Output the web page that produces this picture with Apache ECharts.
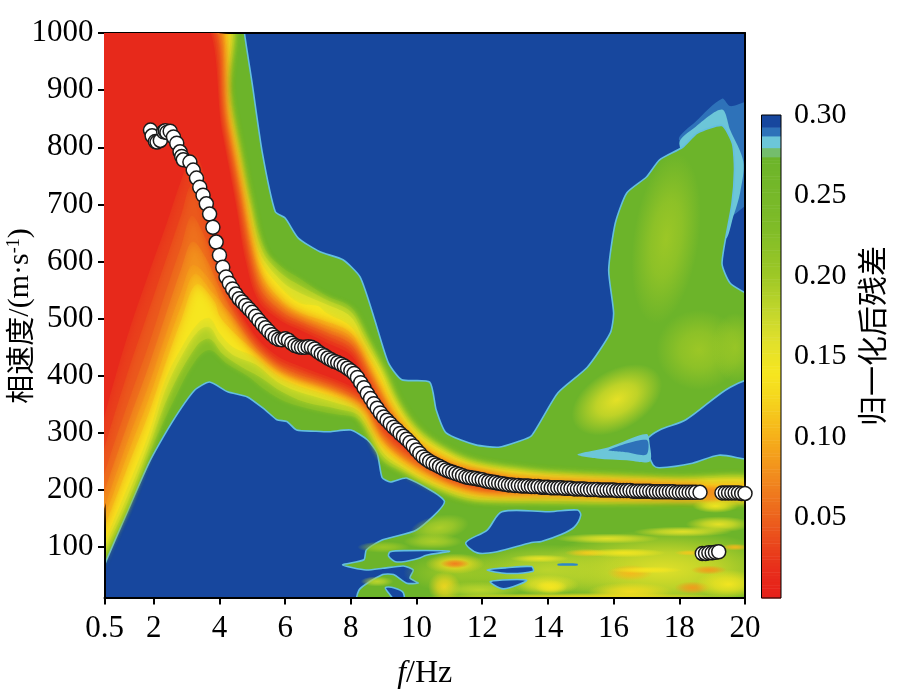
<!DOCTYPE html>
<html><head><meta charset="utf-8">
<style>html,body{margin:0;padding:0;background:#fff}#c{width:899px;height:696px}</style>
<script src="https://cdn.jsdelivr.net/npm/echarts@6/dist/echarts.min.js"></script>
</head><body><div id="c"></div>
<script>
const xTicks=[0.5,2,4,6,8,10,12,14,16,18,20];
const yTicks=[100,200,300,400,500,600,700,800,900,1000];
const barTicks=[0.05,0.10,0.15,0.20,0.25,0.30];
const colorValues=[0,0.02,0.05,0.075,0.10,0.125,0.14,0.16,0.18,0.20,0.23,0.274];
const colorList=['#e61f1a','#e8301b','#ec621d','#f18a1e','#f6b01a','#f5d71e','#f6e620','#e0e02c','#bfd62c','#9ec826','#7fbc28','#6cb42a'];
const capValues=[0.274,0.2797,0.287,0.2925,0.30];
const capColors=['#74bd6c','#6cc6d8','#2e72b9','#17479e'];

const dotFreq=[1.9,1.95,2.05,2.1,2.2,2.3,2.35,2.4,2.5,2.6,2.7,2.8,2.85,2.9,3.1,3.2,3.3,3.4,3.5,3.6,3.7,3.8,3.9,4.0,4.1,4.2,4.3,4.4,4.5,4.6,4.7,4.8,4.9,5.0,5.1,5.2,5.3,5.4,5.5,5.6,5.7,5.8,5.9,6.0,6.1,6.2,6.3,6.4,6.5,6.6,6.7,6.8,6.9,7.0,7.1,7.2,7.3,7.4,7.5,7.6,7.7,7.8,7.9,8.0,8.1,8.2,8.3,8.4,8.5,8.6,8.7,8.8,8.9,9.0,9.1,9.2,9.3,9.4,9.5,9.6,9.7,9.8,9.9,10.0,10.1,10.2,10.3,10.4,10.5,10.6,10.7,10.8,10.9,11.0,11.1,11.2,11.3,11.4,11.5,11.6,11.7,11.8,11.9,12.0,12.1,12.2,12.3,12.4,12.5,12.6,12.7,12.8,12.9,13.0,13.1,13.2,13.3,13.4,13.5,13.6,13.7,13.8,13.9,14.0,14.1,14.2,14.3,14.4,14.5,14.6,14.7,14.8,14.9,15.0,15.1,15.2,15.3,15.4,15.5,15.6,15.7,15.8,15.9,16.0,16.1,16.2,16.3,16.4,16.5,16.6,16.7,16.8,16.9,17.0,17.1,17.2,17.3,17.4,17.5,17.6,17.7,17.8,17.9,18.0,18.1,18.2,18.3,18.4,18.5,18.63,19.3,19.4,19.5,19.6,19.7,19.8,19.9,20.0];
const dotVel=[830,820,810,809,812,827,829,826,828,818,807,792,784,778,774,760,746,730,716,701,683,660,634,611,590,573,562,552,543,535,529,523,517,511,504,497,490,484,478,472,467,464,463,465,462,457,453,451,450,450,451,450,447,442,438,435,431,428,425,423,420,417,413,409,404,397,388,379,369,360,351,343,335,328,322,316,310,305,299,294,289,283,277,270,264,258,254,250,247,244,241,238,235,233,231,229,227,225,223,222,221,220,219,218,216,215,214,213,212,211,210,209,209,208,208,207,207,207,206,206,206,205,205,205,204,204,204,204,203,203,203,202,202,202,202,201,201,201,201,200,200,200,200,200,199,199,199,199,199,198,198,198,198,198,198,197,197,197,197,197,197,197,196,196,196,196,196,196,196,196,195,195,195,195,195,195,194,194];
const lowFreq=[18.7,18.8,18.9,19.0,19.1,19.2];
const lowVel=[89,89,90,90,91,92];

// contours: [frequency, velocity] outlines
const tipMid=[[18.0,812],[18.5,845],[19.3,885],[19.55,872],[20.3,880],[20.3,720],[19.85,690],[19.55,680],[19.7,760]];
const tipLight=[[18.0,806],[18.5,836],[19.3,866],[19.55,830],[19.95,775],[19.85,720],[19.65,680],[19.4,640],[18.8,700]];
const outer=[[0.3,1040],[4.7,1040],[4.76,1000],[5.0,910],[5.3,792],[5.7,687],[6.0,676],[6.4,641],[7.06,617],[7.76,603],[8.28,573],[8.7,503],[9.14,423],[9.55,393],[10.4,389],[10.6,340],[10.9,300],[11.8,279],[12.5,275],[13.1,285],[13.5,295],[14.3,370],[15.2,415],[15.9,475],[16,510],[15.85,585],[16.05,667],[16.4,720],[17.0,748],[17.4,778],[18.1,800],[18.55,825],[19.3,838],[19.62,806],[19.68,760],[19.6,700],[19.3,597],[19.55,562],[20.4,525],[20.4,-20],[8.2,-20],[8.25,25],[8.97,52],[9.3,52],[9.7,37],[10.05,37],[9.8,46],[9.9,60],[9.6,67],[8.97,63],[8.47,60],[7.75,69],[8.4,78],[8.47,95],[8.97,113],[10,130],[10.85,180],[9.7,221],[9.2,214],[8.95,222],[8.8,265],[8.5,288],[8,305],[7.35,302],[6.9,303],[6.35,305],[6.05,320],[5.75,323],[5.4,340],[4.85,363],[4.25,372],[3.7,389],[3.25,375],[2.55,318],[1.85,247],[0.5,69],[0.3,38]];
const holeUpper=[[17,288],[17.4,305],[18.2,323],[19.55,380],[20.4,392],[20.4,258],[19.2,261],[18.4,247],[17.4,239],[17.2,244],[17,275]];
const stripLight=[[14.9,262],[15.85,275],[17,298],[17.1,280],[17.1,250],[16.4,252],[15.5,255]];
const stripMid=[[15.85,270],[17,288],[17,262],[16.4,266]];
const holeA=[[12.6,162],[14.05,162],[14.9,165],[15.0,156],[14.8,135],[14.4,122],[13.8,110],[13.5,108],[12.45,92],[11.85,90],[11.5,108],[12.15,130]];
const holeB=[[9.2,92],[9.7,94],[11.0,93],[10.3,86],[10.05,80],[9.4,74],[9.15,84]];
const holeD=[[9.05,29],[9.3,29],[9.6,20],[9.6,-10],[9.2,16]];
const holeE=[[12.15,60],[12.75,64],[13.5,66],[13.55,58],[12.75,54]];
const holeF=[[12.25,40],[13.35,42],[12.65,27]];
const holeG=[[14.3,71],[14.9,71],[14.9,68],[14.3,68]];

const lime=[[0.3,60],[0.5,85],[1.2,165],[1.85,262],[2.55,350],[3.25,425],[3.7,445],[4.25,420],[4.85,400],[5.4,375],[6,355],[6.9,340],[7.6,332],[8.2,325],[8.6,290],[9,250],[9.6,232],[10.5,205],[11.5,183],[12.5,178],[14,176],[16,175],[18,178],[20.4,180],[20.4,222],[18,222],[16,226],[14,232],[13.1,238],[11.8,250],[10.9,272],[10,310],[9.5,350],[9,410],[8.4,480],[8,520],[7.25,540],[6.45,570],[5.9,590],[5.4,620],[4.95,700],[4.6,800],[4.3,900],[4.25,1040],[0.3,1040]];
const limeMid=[[0.3,68],[0.5,92],[1.2,178],[1.85,274],[2.45,365],[3.3,452],[3.7,465],[4.1,438],[4.6,418],[5.25,397],[5.9,372],[6.6,354],[7.6,342],[8.2,332],[8.6,299],[9,258],[9.6,236],[10.5,208],[11.5,187],[12.4,182],[14,181],[16,180],[18,182],[20.4,184],[20.4,218],[18,219],[16,223],[14,229],[13.1,235],[11.8,247],[10.9,268],[10,305],[9.4,354],[8.95,410],[8.4,470],[8,512],[7.25,533],[6.45,558],[5.9,578],[5.3,619],[4.9,705],[4.55,798],[4.25,898],[4.17,1040],[0.3,1040]];
const yellowGreen=[[0.3,75],[0.5,100],[1.2,190],[1.85,285],[2.35,375],[2.85,435],[3.35,478],[3.7,485],[4,460],[4.4,437],[5.1,420],[5.75,390],[6.3,374],[7,362],[7.6,352],[8.2,340],[8.6,308],[9,265],[9.6,240],[10.5,212],[11.5,192],[12.2,187],[14,187],[16,185],[18,186],[20.4,188],[20.4,215],[18,216],[16,220],[14,226],[13.1,232],[11.8,244],[10.9,265],[10,300],[9.3,358],[8.9,410],[8.4,460],[8,503],[7.25,525],[6.45,545],[5.9,565],[5.2,618],[4.8,710],[4.5,795],[4.2,897],[4.1,1040],[0.3,1040]];
const yellow=[[0.3,85],[0.5,110],[1.2,205],[1.85,300],[2.35,393],[2.85,450],[3.35,492],[3.7,501],[4,475],[4.4,451],[5.1,433],[5.75,402],[6.3,385],[7,372],[7.6,362],[8.2,350],[8.6,318],[9,275],[9.6,247],[10.5,218],[11.5,197],[12.2,192],[14,192],[16,190],[18,190],[20.4,190],[20.4,208],[18,210],[16,214],[14,220],[13.1,226],[11.8,238],[10.9,258],[10,293],[9.3,345],[8.9,398],[8.4,445],[8,486],[7.25,510],[7,522],[6.45,527],[5.9,552],[5.2,606],[4.8,694],[4.5,781],[4.1,897],[4.0,1040],[0.3,1040]];
const amber=[[0.3,105],[0.5,135],[1.2,240],[1.85,335],[2.35,420],[2.85,500],[3.3,560],[3.85,530],[4,505],[4.4,478],[5.1,442],[5.75,410],[6.3,395],[7,382],[7.6,370],[8.2,356],[8.6,330],[9,285],[9.6,255],[10.5,225],[11.5,202],[12.2,197],[14,197],[16,195],[18,193],[20.4,192],[20.4,203],[18,205],[16,208],[14,214],[13.1,218],[11.8,230],[10.9,250],[10,282],[9.3,330],[8.9,375],[8.4,432],[8,475],[7.25,495],[6.45,510],[5.9,530],[5.2,585],[4.8,670],[4.5,760],[4.1,880],[3.85,1040],[0.3,1040]];
const amberMid=[[0.3,120],[0.5,152],[1.2,262],[1.85,360],[2.35,445],[2.85,525],[3.25,578],[3.8,545],[4.2,520],[4.7,480],[5.1,455],[5.75,414],[6.3,398],[7,385],[7.6,373],[8.2,357],[8.6,335],[9,290],[9.6,258],[10.5,228],[11.5,205],[12.2,199],[14,198],[18,193.5],[20.4,192],[20.4,201],[18,203],[14,212],[13.1,216],[11.8,228],[10.9,246],[10,278],[9.3,326],[8.9,368],[8.4,426],[8,468],[7.25,488],[6.45,505],[5.9,525],[5.2,575],[4.8,660],[4.5,750],[4.1,870],[3.75,1040],[0.3,1040]];
const orange=[[0.3,135],[0.5,170],[1.2,285],[1.85,385],[2.35,470],[2.85,550],[3.2,594],[3.8,560],[4.1,525],[4.4,505],[5.1,450],[5.75,418],[6.3,400],[7,388],[7.6,376],[8.2,358],[8.6,340],[9,295],[9.6,262],[10.5,231],[11.5,208],[12.2,201],[14,199],[16,197],[18,194],[20.4,192],[20.4,200],[18,201],[16,205],[14,210],[13.1,214],[11.8,226],[10.9,243],[10,275],[9.3,322],[8.9,362],[8.4,420],[8,462],[7.25,482],[6.45,500],[5.9,520],[5.2,565],[4.8,650],[4.5,740],[4.1,860],[3.65,1040],[0.3,1040]];
const orangeMid=[[0.3,160],[0.5,198],[1.2,315],[1.85,418],[2.35,505],[2.85,590],[3.18,635],[3.6,605],[4,555],[4.4,515],[5.1,456],[5.75,422],[6.3,405],[7,392],[7.6,380],[8.2,363],[8.6,345],[9,300],[9.6,266],[10.5,234],[11.5,210],[12.5,202],[14,200],[18,194],[18.6,194],[18.6,200],[14,209],[13,213],[11.8,224],[10.9,240],[10,271],[9.3,317],[8.9,355],[8.4,412],[8,455],[7.25,476],[6.45,495],[5.9,512],[5.2,555],[4.8,638],[4.5,730],[4.1,850],[3.58,1040],[0.3,1040]];
const redOrange=[[0.3,190],[0.5,230],[1.2,350],[1.85,455],[2.35,545],[2.85,630],[3.15,680],[3.5,650],[3.9,590],[4.4,525],[5.1,462],[5.75,425],[6.3,410],[7,396],[7.6,384],[8.2,368],[8.6,350],[9,305],[9.6,270],[10.5,237],[11.5,213],[12.5,204],[14,202],[18.6,194],[18.6,199],[14,208],[13,211],[11.8,222],[10.9,238],[10,268],[9.3,312],[8.9,348],[8.4,405],[8,448],[7.25,470],[6.45,490],[5.9,505],[5.2,545],[4.8,625],[4.5,720],[4.1,840],[3.5,1040],[0.3,1040]];
const redMid=[[0.3,230],[0.5,275],[1.2,405],[1.85,515],[2.35,600],[2.85,685],[3.15,735],[3.5,705],[3.9,615],[4.4,532],[5.1,466],[5.75,430],[6.3,415],[7,400],[7.6,388],[8.2,372],[8.6,352],[9,310],[9.6,274],[10.5,238],[11.5,215],[12.5,205],[14,203],[18.6,195],[18.6,198],[14,207],[13,210],[11.8,223],[10.9,236],[10,265],[9.3,308],[8.9,344],[8.4,400],[8,442],[7.25,464],[6.45,485],[5.9,500],[5.2,538],[4.8,612],[4.5,710],[4.1,830],[3.42,1040],[0.3,1040]];
const red=[[0.3,280],[0.5,330],[1.2,470],[1.85,580],[2.35,660],[2.85,745],[3.2,790],[3.5,760],[3.9,640],[4.4,540],[5.1,470],[5.75,435],[6.3,420],[7,405],[7.6,392],[8.2,375],[8.6,355],[9,315],[9.6,278],[10.5,240],[11,225],[11.5,218],[12.5,207],[12.5,214],[11.5,225],[10.9,234],[10,262],[9.3,305],[8.9,340],[8.4,395],[8,436],[7.25,458],[6.45,480],[5.9,495],[5.2,530],[4.8,600],[4.5,700],[4.1,820],[3.35,1040],[0.3,1040]];
const ridgeLevels=[[lime,0.225,4],[limeMid,0.19,7],[yellowGreen,0.165,10],[yellow,0.14,12],[amber,0.112,12],[amberMid,0.095,12],[orange,0.08,12],[orangeMid,0.06,12],[redOrange,0.045,12],[redMid,0.03,12],[red,0.012,12]];

// soft patches: frequency, velocity, half width (Hz), half height (m/s), angle, residual
const patches=[
[17.6,640,1.0,150,-8,0.2],[16.1,358,1.5,52,30,0.15],[18.6,445,1.3,70,0,0.2],[19.7,450,0.7,60,0,0.205],
[17.5,60,3.8,70,0,0.155],[14,60,2.6,45,0,0.18],[11.4,55,1.8,35,0,0.2],
[10.7,134,0.9,22,10,0.19],[10.5,110,0.9,13,0,0.19],[9,100,0.8,10,0,0.2],[8.8,40,0.5,9,0,0.18],
[11.17,71,0.9,18,0,0.13],[11.17,71,0.45,8,0,0.065],[10.85,30,0.5,27,-15,0.125],[11.9,25,1.3,15,0,0.18],
[13.75,80,0.9,7,0,0.15],[13.95,34,1,18,0,0.15],[15.2,90,0.7,7,0,0.115],[16.3,90,1.3,8,0,0.14],
[16.5,55,0.7,14,0,0.105],[17,60,1.1,6,0,0.14],[18.4,29,0.55,11,0,0.085],[18.9,60,0.55,8,0,0.085],
[16.5,22,1.3,16,0,0.13],[14.1,30,0.5,12,0,0.14],[18.1,127,1.5,9,0,0.155],[15.8,115,1.6,9,0,0.155],
[19.7,100,0.45,6,0,0.105],[18.3,90,0.45,5,0,0.115],[15,12,5,8,0,0.13],[19.5,35,1,25,0,0.14],[19.2,140,1,14,0,0.15]
];
const gapPatches=[[18.95,192,0.5,18,0,0.08],[19.1,172,0.7,12,0,0.14]];

function hexRgb(h){return [1,3,5].map(i=>parseInt(h.substr(i,2),16));}
function colorOf(v){
  for(let i=1;i<colorValues.length;i++){
    if(v<=colorValues[i]){
      const t=(v-colorValues[i-1])/(colorValues[i]-colorValues[i-1]);
      const a=hexRgb(colorList[i-1]),b=hexRgb(colorList[i]);
      return 'rgb('+a.map((c,k)=>Math.round(c+(b[k]-c)*t)).join(',')+')';
    }
  }
  const h=hexRgb(colorList[colorList.length-1]);
  return 'rgb('+h.join(',')+')';
}
function alpha(c,a){return c.replace('rgb(','rgba(').replace(')',','+a+')');}

const BLUE='#17479e',HALO='#64bfe0',GREEN='#6cb42a';
function poly(points,style,smooth,z){
  return {type:'custom',coordinateSystem:'cartesian2d',xAxisIndex:0,yAxisIndex:0,clip:true,silent:true,z:z,data:[[points[0][0],points[0][1]]],animation:false,
    renderItem:function(p,api){
      return {type:'polygon',shape:{points:points.map(q=>api.coord(q)),smooth:smooth===undefined?0.35:smooth},style:style};
    }};
}
function soft(list,z){
  return {type:'custom',coordinateSystem:'cartesian2d',xAxisIndex:0,yAxisIndex:0,clip:true,silent:true,z:z,animation:false,data:list.map(r=>[r[0],r[1]]),
    renderItem:function(p,api){
      const row=list[p.dataIndex];
      const c=api.coord([row[0],row[1]]);
      const sz=api.size([row[2],row[3]]);
      const col=colorOf(row[5]);
      return {type:'circle',x:c[0],y:c[1],scaleX:sz[0]/100,scaleY:sz[1]/100,rotation:row[4]*Math.PI/180,shape:{cx:0,cy:0,r:100},
        style:{fill:new echarts.graphic.RadialGradient(0.5,0.5,0.5,[{offset:0,color:alpha(col,0.95)},{offset:0.45,color:alpha(col,0.65)},{offset:1,color:alpha(col,0)}])}};
    }};
}
const edge={lineWidth:1.6,stroke:HALO};
const series=[
  poly(tipMid,{fill:'#2e72b9'},0.3,2),
  poly(tipLight,{fill:'#6cc6d8'},0.3,2),
  poly(outer,Object.assign({fill:GREEN},edge),0.2,2),
  soft(patches,3),
  poly(holeUpper,Object.assign({fill:BLUE},edge),0.3,4),
  poly(stripLight,{fill:'#6cc6d8'},0.3,4),
  poly(stripMid,{fill:'#2e72b9'},0.3,4),
  poly(holeA,Object.assign({fill:BLUE},edge),0.3,4),
  poly(holeB,Object.assign({fill:BLUE},edge),0.3,4),
  poly(holeD,Object.assign({fill:BLUE},edge),0.3,4),
  poly(holeE,Object.assign({fill:BLUE},edge),0.3,4),
  poly(holeF,Object.assign({fill:BLUE},edge),0.3,4),
  poly(holeG,{fill:'#2e86c9'},0.3,4)
];
ridgeLevels.forEach(function(l,i){
  const col=colorOf(l[1]);
  series.push(poly(l[0],{fill:col,shadowColor:col,shadowBlur:l[2]},0.35,5+i));
});
series.push(soft(gapPatches,17));
const dotStyle={color:'#fff',borderColor:'#1a1a1a',borderWidth:1.5,opacity:1};
series.push({type:'scatter',xAxisIndex:0,yAxisIndex:0,clip:false,z:20,symbolSize:14,silent:true,animation:false,
  data:dotFreq.map((f,i)=>[f,dotVel[i]]),itemStyle:dotStyle});
series.push({type:'scatter',xAxisIndex:0,yAxisIndex:0,clip:false,z:20,symbolSize:14,silent:true,animation:false,
  data:lowFreq.map((f,i)=>[f,lowVel[i]]),itemStyle:dotStyle});

// colour bar
const STEP=0.002;
const bands=[];
for(let v=0;v<capValues[0]-1e-9;v+=STEP){bands.push([v,Math.min(v+STEP,capValues[0]),colorOf(v+STEP/2)]);}
capColors.forEach((c,i)=>bands.push([capValues[i],capValues[i+1],c]));
series.push({type:'custom',coordinateSystem:'cartesian2d',xAxisIndex:2,yAxisIndex:2,silent:true,animation:false,z:5,data:bands.map(b=>[0,b[0]]),
  renderItem:function(p,api){
    const b=bands[p.dataIndex];
    const a=api.coord([0,b[1]]),c=api.coord([1,b[0]]);
    return {type:'rect',shape:{x:a[0],y:a[1],width:c[0]-a[0],height:c[1]-a[1]+0.5},style:{fill:b[2]}};
  }});
series.push({type:'custom',coordinateSystem:'cartesian2d',xAxisIndex:2,yAxisIndex:2,silent:true,animation:false,z:6,data:[[0,0]],
  renderItem:function(p,api){
    const a=api.coord([0,0.3]),c=api.coord([1,0]);
    return {type:'rect',shape:{x:a[0],y:a[1],width:c[0]-a[0],height:c[1]-a[1]},style:{fill:'none',stroke:'#000',lineWidth:1}};
  }});

const SERIF='"Liberation Serif","Noto Sans CJK SC",serif';
const txt={fontFamily:SERIF,fontSize:30,color:'#000'};
const txtMain={fontFamily:SERIF,fontSize:31,color:'#000'};
const line2={show:true,lineStyle:{color:'#000',width:2}};
const option={
  animation:false,backgroundColor:'#fff',
  grid:[{left:104.5,top:33,width:640.5,height:565,show:true,backgroundColor:BLUE,borderWidth:0,outerBoundsMode:'none'},
        {left:761.5,top:115,width:19.5,height:483,outerBoundsMode:'none'}],
  xAxis:[
    {type:'value',gridIndex:0,min:0.5,max:20,z:10,axisLine:Object.assign({onZero:false},line2),splitLine:{show:false},
     axisTick:{show:true,customValues:xTicks,length:6.5,lineStyle:{color:'#000',width:2}},
     axisLabel:Object.assign({customValues:xTicks,margin:15,formatter:v=>String(v),hideOverlap:false},txtMain),
     name:'{i|f}{r|/Hz}',nameLocation:'middle',nameGap:60,
     nameTextStyle:{rich:{i:{fontFamily:SERIF,fontSize:32,fontStyle:'italic',color:'#000'},r:{fontFamily:SERIF,fontSize:32,color:'#000'}}}},
    {type:'value',gridIndex:0,min:0.5,max:20,position:'top',z:10,axisLine:Object.assign({onZero:false},line2),axisTick:{show:false},axisLabel:{show:false},splitLine:{show:false}},
    {type:'value',gridIndex:1,min:0,max:1,show:false}
  ],
  yAxis:[
    {type:'value',gridIndex:0,min:11,max:1000,z:10,axisLine:Object.assign({onZero:false},line2),splitLine:{show:false},
     axisTick:{show:true,customValues:yTicks,length:6.5,lineStyle:{color:'#000',width:2}},
     axisLabel:Object.assign({customValues:yTicks,margin:11,formatter:v=>String(v)},txtMain)},
    {type:'value',gridIndex:0,min:11,max:1000,position:'right',z:10,axisLine:Object.assign({onZero:false},line2),axisTick:{show:false},axisLabel:{show:false},splitLine:{show:false}},
    {type:'value',gridIndex:1,min:0,max:0.3,position:'right',axisLine:{show:false},splitLine:{show:false},
     axisTick:{show:true,customValues:barTicks,length:6,lineStyle:{color:'#000',width:1}},
     axisLabel:Object.assign({customValues:barTicks,margin:13,padding:[3,0,0,0],formatter:v=>v.toFixed(2)},txt)}
  ],
  graphic:[
    {type:'text',x:872,y:336,rotation:Math.PI/2,style:{text:'归一化后残差',font:'30px "Noto Sans CJK SC"',fill:'#000',textAlign:'center',textVerticalAlign:'middle'},z:30},
    {type:'text',x:20,y:316,rotation:Math.PI/2,z:30,style:{text:'{c|相速度}{r|/(m·s}{s|-1}{r|)}',align:'center',verticalAlign:'middle',
      rich:{c:{fontFamily:'"Noto Sans CJK SC"',fontSize:29,fill:'#000'},r:{fontFamily:SERIF,fontSize:30,fill:'#000'},s:{fontFamily:SERIF,fontSize:18,fill:'#000',verticalAlign:'top',lineHeight:30}}}}
  ],
  series:series
};
echarts.init(document.getElementById('c'),null,{renderer:'canvas'}).setOption(option);
</script></body></html>
